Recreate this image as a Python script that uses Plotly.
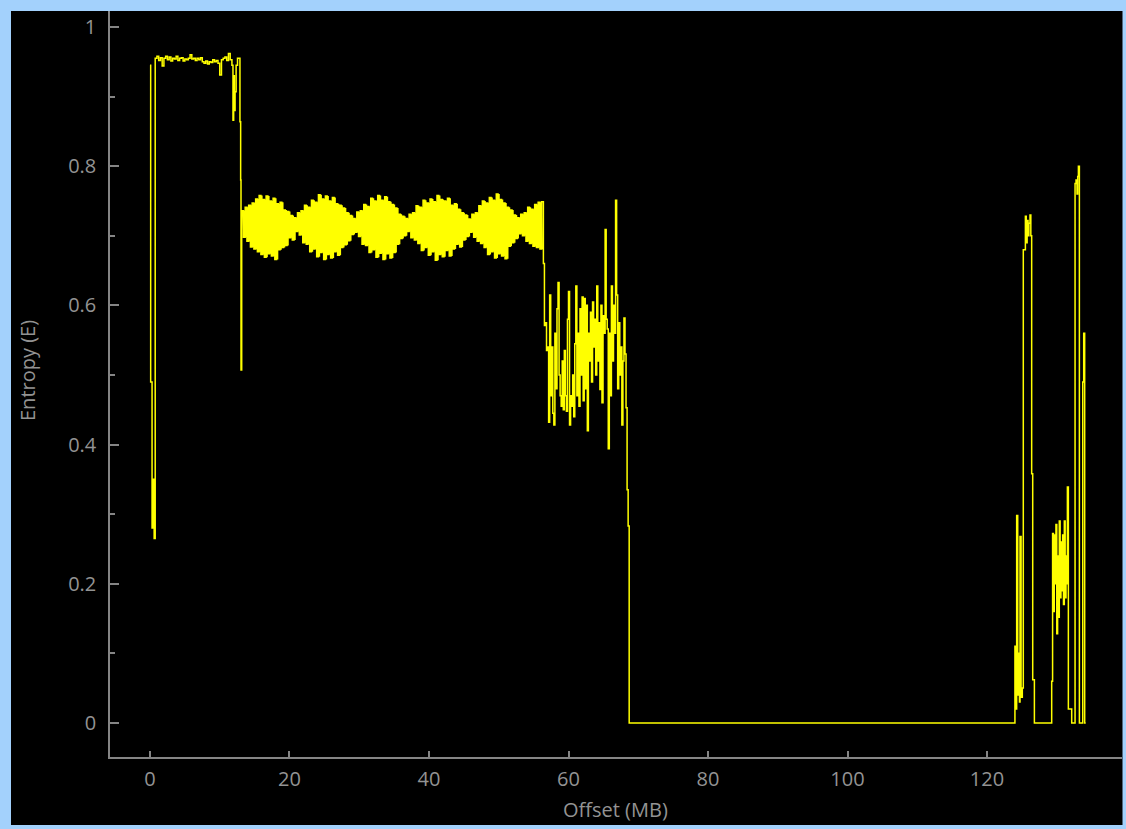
import plotly.graph_objects as go

# ---------------- data (offset in MB, entropy) ----------------
start_offsets = [0.0, 0.1, 0.3, 0.5, 0.6]
start_entropy = [0.945, 0.49, 0.28, 0.35, 0.265]

plateau_start = 0.75
plateau_step = 0.25
plateau_entropy = [
    0.955, 0.958, 0.952, 0.956, 0.944, 0.955, 0.958, 0.953, 0.957, 0.951,
    0.955, 0.954, 0.958, 0.952, 0.955, 0.956, 0.951, 0.954, 0.953, 0.955,
    0.960, 0.954, 0.955, 0.952, 0.955, 0.953, 0.956, 0.950, 0.948, 0.951,
    0.947, 0.950, 0.949, 0.953, 0.950, 0.952, 0.948, 0.931, 0.953, 0.955,
    0.957, 0.952, 0.962, 0.953,
]

drop_offsets = [11.75, 11.9, 12.0, 12.1, 12.2, 12.35, 12.55, 12.9, 13.0, 13.05]
drop_entropy = [0.945, 0.866, 0.93, 0.88, 0.907, 0.945, 0.955, 0.864, 0.78, 0.507]

# oscillating band: alternating upper / lower readings every 0.25 MB
band_start = 13.15
band_step = 0.25
band_entropy = [
    0.736, 0.698, 0.741, 0.692, 0.744, 0.684, 0.747, 0.681, 0.753, 0.677,
    0.758, 0.673, 0.752, 0.669, 0.757, 0.674, 0.750, 0.671, 0.754, 0.666,
    0.746, 0.680, 0.748, 0.683, 0.737, 0.686, 0.735, 0.697, 0.729, 0.694,
    0.726, 0.706, 0.733, 0.701, 0.736, 0.690, 0.744, 0.688, 0.741, 0.677,
    0.751, 0.681, 0.748, 0.670, 0.759, 0.676, 0.753, 0.666, 0.757, 0.673,
    0.750, 0.668, 0.755, 0.677, 0.746, 0.672, 0.744, 0.683, 0.740, 0.687,
    0.733, 0.693, 0.729, 0.702, 0.725, 0.705, 0.734, 0.699, 0.736, 0.688,
    0.745, 0.686, 0.742, 0.676, 0.754, 0.680, 0.750, 0.669, 0.758, 0.675,
    0.751, 0.666, 0.756, 0.674, 0.749, 0.668, 0.745, 0.676, 0.740, 0.688,
    0.731, 0.696, 0.728, 0.700, 0.725, 0.706, 0.731, 0.697, 0.733, 0.694,
    0.743, 0.689, 0.741, 0.679, 0.751, 0.683, 0.747, 0.672, 0.753, 0.677,
    0.749, 0.665, 0.758, 0.673, 0.752, 0.670, 0.750, 0.679, 0.754, 0.671,
    0.744, 0.681, 0.746, 0.688, 0.738, 0.684, 0.733, 0.694, 0.730, 0.699,
    0.724, 0.705, 0.731, 0.698, 0.733, 0.692, 0.743, 0.689, 0.750, 0.683,
    0.747, 0.673, 0.755, 0.677, 0.751, 0.668, 0.760, 0.674, 0.752, 0.671,
    0.747, 0.667, 0.741, 0.685, 0.737, 0.690, 0.730, 0.696, 0.726, 0.703,
    0.731, 0.700, 0.733, 0.692, 0.741, 0.689, 0.738, 0.685, 0.745, 0.683,
    0.748, 0.681, 0.749, 0.660,
]

noisy_start = 56.55
noisy_step = 0.15
noisy_entropy = [
    0.571, 0.575, 0.535, 0.540, 0.432, 0.615, 0.470, 0.540, 0.445, 0.428,
    0.560, 0.480, 0.595, 0.633, 0.500, 0.470, 0.455, 0.520, 0.450, 0.535,
    0.470, 0.448, 0.580, 0.620, 0.428, 0.470, 0.455, 0.500, 0.440, 0.545,
    0.628, 0.470, 0.560, 0.455, 0.595, 0.500, 0.612, 0.463, 0.610, 0.480,
    0.600, 0.420, 0.560, 0.520, 0.590, 0.490, 0.605, 0.540, 0.580, 0.500,
    0.628, 0.520, 0.575, 0.479, 0.600, 0.460, 0.585, 0.560, 0.709, 0.580,
    0.566, 0.394, 0.560, 0.470, 0.628, 0.520, 0.600, 0.560, 0.751, 0.615,
    0.480, 0.575, 0.500, 0.540, 0.428, 0.520, 0.582, 0.530, 0.453, 0.335,
    0.283, 0.0,
]

tail_offsets = [
    124.00, 124.15, 124.25, 124.40, 124.55, 124.65, 124.73, 124.88, 125.06,
    125.20, 125.40, 125.50, 125.62, 125.75, 125.88, 126.00, 126.16, 126.28,
    126.40, 126.55, 126.79,
    129.27, 129.40, 129.52, 129.64, 129.76, 129.88, 130.00, 130.12, 130.24,
    130.36, 130.48, 130.60, 130.72, 130.84, 130.96, 131.08, 131.20, 131.32,
    131.44, 131.52, 131.66, 132.14,
    132.62, 132.76, 132.90, 133.00, 133.10, 133.24,
    133.72, 133.86, 134.00, 134.15,
]
tail_entropy = [
    0.11, 0.02, 0.298, 0.04, 0.10, 0.03, 0.268, 0.037, 0.05,
    0.68, 0.68, 0.728, 0.69, 0.722, 0.70, 0.718, 0.73, 0.70,
    0.358, 0.062, 0.0,
    0.06, 0.272, 0.16, 0.27, 0.20, 0.285, 0.128, 0.24, 0.152,
    0.29, 0.18, 0.26, 0.19, 0.27, 0.17, 0.29, 0.18, 0.24,
    0.20, 0.339, 0.02, 0.0,
    0.775, 0.78, 0.76, 0.785, 0.80, 0.0,
    0.49, 0.56, 0.0, 0.0,
]

x_tick_vals = [0, 20, 40, 60, 80, 100, 120]
y_tick_vals = [0, 0.2, 0.4, 0.6, 0.8, 1]
x_title = "Offset (MB)"
y_title = "Entropy (E)"

# ---------------- assemble series ----------------
band_offsets = [band_start + i * band_step for i in range(len(band_entropy))]

offsets = list(start_offsets)
entropy = list(start_entropy)
offsets += [plateau_start + i * plateau_step for i in range(len(plateau_entropy))]
entropy += plateau_entropy
offsets += drop_offsets
entropy += drop_entropy
offsets += band_offsets
entropy += band_entropy
offsets += [noisy_start + i * noisy_step for i in range(len(noisy_entropy))]
entropy += noisy_entropy
offsets += tail_offsets
entropy += tail_entropy

# ---------------- figure ----------------
W, H = 1126, 829
ML, MR, MT, MB = 110, 4, 11, 72
PW, PH = W - ML - MR, H - MT - MB

def px_x(px):
    return (px - ML) / PW

def px_y(py):
    return (H - MB - py) / PH

AX = "#858585"
TXT = "#939393"
BORDER = "#a3d1fc"
YEL = "#ffff00"
FONT = "Open Sans, Noto Sans, sans-serif"

fig = go.Figure()
# solid body of the oscillating band (between its lower and upper readings)
fig.add_trace(go.Scatter(
    x=band_offsets[1::2], y=band_entropy[1::2], mode="lines",
    line=dict(width=0, shape="hv"), hoverinfo="skip", showlegend=False,
))
fig.add_trace(go.Scatter(
    x=band_offsets[0::2], y=band_entropy[0::2], mode="lines",
    line=dict(width=0, shape="hv"), fill="tonexty", fillcolor=YEL,
    hoverinfo="skip", showlegend=False,
))
fig.add_trace(go.Scatter(
    x=offsets, y=entropy, mode="lines",
    line=dict(color=YEL, width=1.5, shape="hv"),
    hoverinfo="skip", showlegend=False,
))

fig.update_layout(
    width=W, height=H,
    margin=dict(l=ML, r=MR, t=MT, b=MB, pad=0),
    paper_bgcolor=BORDER,
    plot_bgcolor="#000000",
    font=dict(family=FONT, size=20, color=TXT),
    showlegend=False,
    shapes=[dict(
        type="rect", xref="paper", yref="paper", layer="below",
        x0=px_x(11), x1=px_x(1122.5), y0=px_y(825), y1=px_y(11),
        fillcolor="#000000", line=dict(width=0),
    )],
    annotations=[
        dict(text=x_title, xref="paper", yref="paper", x=px_x(615), y=px_y(809),
             xanchor="center", yanchor="middle", showarrow=False,
             font=dict(family=FONT, size=20, color=TXT)),
        dict(text=y_title, xref="paper", yref="paper", x=px_x(27), y=px_y(371),
             xanchor="center", yanchor="middle", showarrow=False, textangle=-90,
             font=dict(family=FONT, size=20, color=TXT)),
    ],
)

fig.update_xaxes(
    range=[-5.73, 139.35], showgrid=False, zeroline=False,
    showline=True, linecolor=AX, linewidth=1.5,
    tickmode="array", tickvals=x_tick_vals,
    ticks="inside", ticklen=6, tickwidth=1.5, tickcolor=AX,
    tickfont=dict(family=FONT, size=20, color=TXT),
    ticklabelstandoff=3,
)
fig.update_yaxes(
    range=[-0.049, 1.023], showgrid=False, zeroline=False,
    showline=True, linecolor=AX, linewidth=1.5,
    tickmode="array", tickvals=y_tick_vals,
    ticks="inside", ticklen=9, tickwidth=1.5, tickcolor=AX,
    tickfont=dict(family=FONT, size=20, color=TXT),
    ticklabelstandoff=8,
    minor=dict(dtick=0.1, tick0=0, ticks="inside", ticklen=5, tickwidth=1.5, tickcolor=AX),
)

fig.write_html(
    "out.html",
    config={"displayModeBar": False},
    post_script=(
        "document.body.style.margin='0';"
        "document.body.style.padding='0';"
        "document.body.style.background='" + BORDER + "';"
        "document.documentElement.style.overflow='hidden';"
    ),
)
